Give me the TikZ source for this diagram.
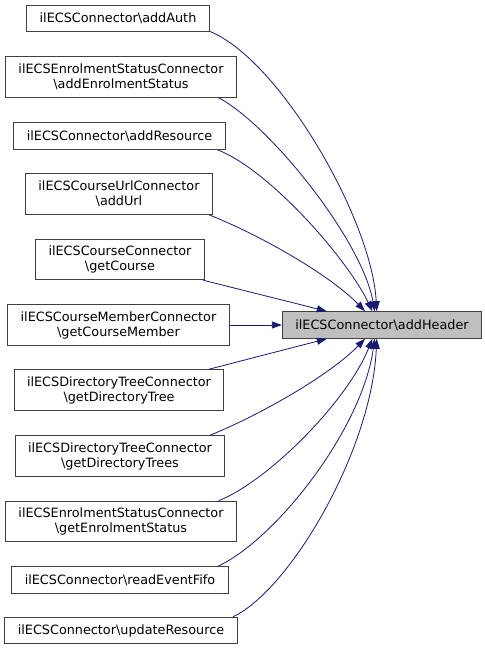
\documentclass[tikz,border=0pt]{standalone}
\usepackage{fontspec}
\setmainfont{DejaVu Sans}
\usetikzlibrary{arrows.meta}
\definecolor{edgeblue}{HTML}{191970}
\definecolor{boxgrey}{HTML}{404040}
\newcommand{\bs}{\textbackslash}
\begin{document}
\begin{tikzpicture}[x=1pt,y=-1pt,
    font=\fontsize{12.8}{15}\selectfont,
    fnbox/.style={draw=boxgrey,line width=1pt,fill=white,inner xsep=13pt,inner ysep=0pt,
      minimum height=26.5pt,align=center},
    twobox/.style={fnbox,minimum height=40.5pt},
    headbox/.style={fnbox,fill=black!25},
    call/.style={draw=edgeblue,line width=0.8pt,-{Triangle[length=10pt,width=7pt]}}]
  \useasboundingbox (0,0) rectangle (485,649);
  % called function
  \node[headbox] (head) at (382,325) {ilECSConnector\bs addHeader};
  % callers
  \node[fnbox]  (auth)     at (118,18.5) {ilECSConnector\bs addAuth};
  \node[twobox] (enrolAdd) at (121,77)   {ilECSEnrolmentStatusConnector\\\bs addEnrolmentStatus};
  \node[fnbox]  (resource) at (119.5,136) {ilECSConnector\bs addResource};
  \node[twobox] (url)      at (119,194)  {ilECSCourseUrlConnector\\\bs addUrl};
  \node[twobox] (course)   at (120,259.5) {ilECSCourseConnector\\\bs getCourse};
  \node[twobox] (member)   at (118.5,325) {ilECSCourseMemberConnector\\\bs getCourseMember};
  \node[twobox] (dirTree)  at (119,390)  {ilECSDirectoryTreeConnector\\\bs getDirectoryTree};
  \node[twobox] (dirTrees) at (120,456)  {ilECSDirectoryTreeConnector\\\bs getDirectoryTrees};
  \node[twobox] (enrolGet) at (121,521.5) {ilECSEnrolmentStatusConnector\\\bs getEnrolmentStatus};
  \node[fnbox]  (fifo)     at (120,580)  {ilECSConnector\bs readEventFifo};
  \node[fnbox]  (update)   at (121,630.5) {ilECSConnector\bs updateResource};
  % upper calls
  \draw[call] (auth.-8) .. controls (280,60) and (372,220) .. (head.111);
  \draw[call] (enrolAdd.-12) .. controls (270,125) and (362,240) .. (head.118);
  \draw[call] (resource.-8) .. controls (270,170) and (348,260) .. (head.125);
  \draw[call] (url.-13) .. controls (260,235) and (330,275) .. (head.141);
  \draw[call] (course.-14) -- (head.166);
  \draw[call] (member.east) -- (head.west);
  % lower calls
  \draw[call] (dirTree.13.5) -- (head.-166);
  \draw[call] (dirTrees.13.7) .. controls (260,415) and (330,375) .. (head.-141);
  \draw[call] (enrolGet.12.4) .. controls (270,480) and (348,400) .. (head.-125);
  \draw[call] (fifo.8.2) .. controls (275,540) and (362,430) .. (head.-118);
  \draw[call] (update.7.6) .. controls (290,590) and (372,450) .. (head.-111);
\end{tikzpicture}
\end{document}
